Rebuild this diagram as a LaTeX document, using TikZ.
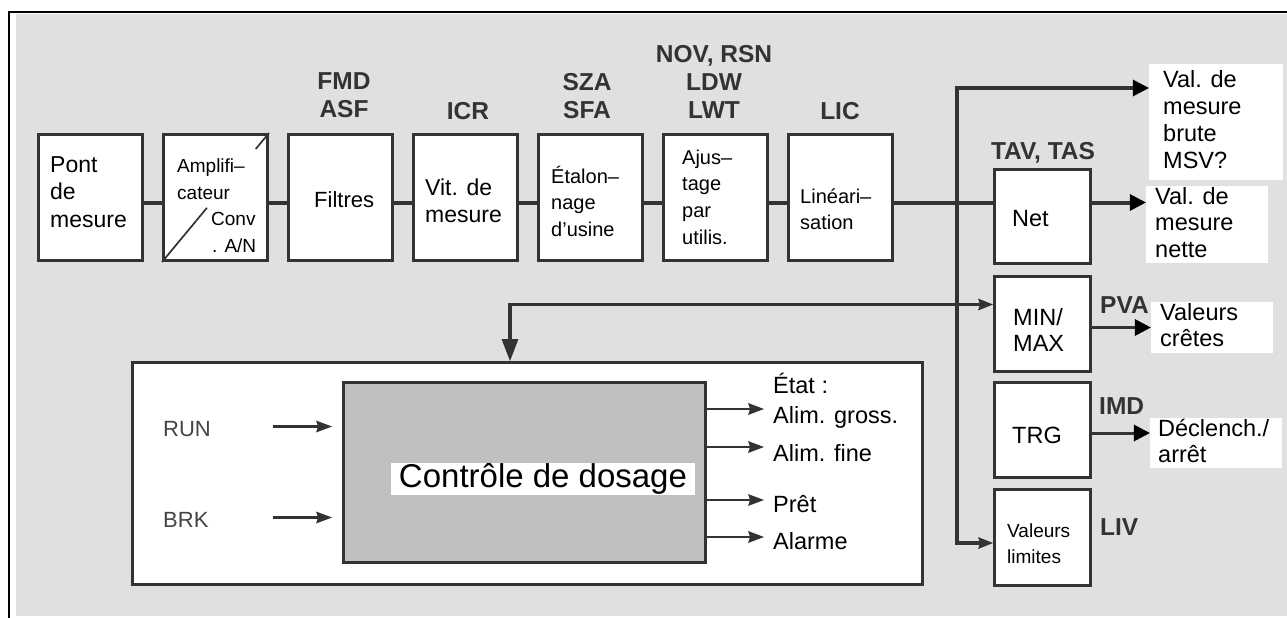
\documentclass[tikz,border=0pt]{standalone}
\usepackage{fontspec}
\setmainfont{Liberation Sans}
\usetikzlibrary{arrows.meta,calc}
\definecolor{bggray}{HTML}{E0E0E0}
\definecolor{ingray}{HTML}{C0C0C0}
\definecolor{linec}{HTML}{333333}
\definecolor{runc}{HTML}{444444}
\newcommand{\Lft}[1]{\vtop{\halign{##\hfil\cr#1\crcr}}}
\newcommand{\Ctr}[1]{\vtop{\halign{\hfil##\hfil\cr#1\crcr}}}
\newcommand{\ftBox}{\fontsize{23}{27.5}\selectfont}
\newcommand{\ftSmall}{\fontsize{20}{26.8}\selectfont}
\newcommand{\ftAmp}{\fontsize{19}{27}\selectfont}
\newcommand{\ftRight}{\fontsize{23.5}{26.7}\selectfont}
\newcommand{\ftLim}{\fontsize{19}{26}\selectfont}
\newcommand{\ftLab}{\fontsize{24.5}{28}\selectfont\bfseries}
\newcommand{\ftCtl}{\fontsize{33}{38}\selectfont}
\newcommand{\ftOut}{\fontsize{23.5}{27}\selectfont}
\newcommand{\ftRun}{\fontsize{22}{26}\selectfont}
\begin{document}
\begin{tikzpicture}[x=1pt,y=-1pt,
  box/.style={draw=linec, line width=3pt, fill=white, inner sep=0pt, minimum width=104pt, minimum height=126pt},
  rbox/.style={draw=linec, line width=3pt, fill=white, inner sep=0pt, minimum width=96pt},
  wbox/.style={fill=white, inner sep=0pt},
  txt/.style={inner sep=0pt, anchor=base west, text=black},
  lbl/.style={inner sep=0pt, anchor=base, text=linec, font=\ftLab},
  sig/.style={draw=linec, line width=4pt},
  thinl/.style={draw=linec, line width=3pt},
  bigtip/.style={-{Triangle[length=16pt,width=17pt,color=black,line width=0pt]}},
  midtip/.style={-{Stealth[length=15pt,width=12pt,inset=2pt,line width=0pt]}},
  smalltip/.style={-{Stealth[length=16pt,width=12pt,inset=2pt,line width=0pt]}}]
\fill[white] (0,0) rectangle (1287,618);
\useasboundingbox (0,0) rectangle (1287,618);
\fill[bggray] (16,14) rectangle (1287,616);
\draw[black, line width=2pt] (8,12.5) -- (1287,12.5);
\draw[black, line width=2pt] (8.5,11.5) -- (8.5,618);

% top row boxes
\node[box] (pont) at (90.5,197.5) {};
\node[box] (amp) at (215.5,197.5) {};
\node[box] (filt) at (340.5,197.5) {};
\node[box] (vit) at (465.5,197.5) {};
\node[box] (etal) at (590,197.5) {};
\node[box] (ajus) at (715,197.5) {};
\node[box] (lin) at (840,197.5) {};

\draw[linec, line width=1.7pt] (amp.south west) -- ($(amp.south west)!0.42!(amp.north east)$);
\draw[linec, line width=1.7pt] ($(amp.south west)!0.876!(amp.north east)$) -- (amp.north east);

\node[txt, font=\ftBox] (tpont) at (50,172) {\Lft{Pont\cr de\cr mesure}};
\node[txt, font=\ftAmp] (tamp) at (177,172) {\Lft{Amplifi–\cr cateur}};
\node[txt, font=\ftAmp] (tconv) at (211,225) {Conv};
\node[txt, font=\ftAmp] (tan) at (212,252) {. A/N};
\node[txt, font=\fontsize{22}{26}\selectfont] (tfilt) at (314,207) {Filtres};
\node[txt, font=\ftBox] (tvit) at (425,195) {\Lft{Vit. de\cr mesure}};
\node[txt, font=\ftSmall] (tetal) at (551,183) {\Lft{Étalon–\cr nage\cr d’usine}};
\node[txt, font=\ftSmall] (tajus) at (682,164) {\Lft{Ajus–\cr tage\cr par\cr utilis.}};
\node[txt, font=\ftSmall] (tlin) at (800,203) {\Lft{Linéari–\cr sation}};

% top labels
\node[lbl] (lfmd) at (344,89) {\Ctr{FMD\cr ASF}};
\node[lbl] (licr) at (468,119) {ICR};
\node[lbl] (lsza) at (587,90) {\Ctr{SZA\cr SFA}};
\node[lbl] (lnov) at (714,63) {\Ctr{NOV, RSN\cr LDW\cr LWT}};
\node[lbl] (llic) at (840,119) {LIC};
\node[lbl] (ltav) at (1043,159) {TAV, TAS};
\node[lbl, anchor=base west] (lpva) at (1100,313) {PVA};
\node[lbl, anchor=base west] (limd) at (1099,414) {IMD};
\node[lbl, anchor=base west] (lliv) at (1100,535) {LIV};

% right column boxes
\node[rbox, minimum height=94pt] (net) at (1042.5,216.5) {};
\node[rbox, minimum height=95pt] (minmax) at (1042.5,324) {};
\node[rbox, minimum height=95pt] (trg) at (1042.5,430) {};
\node[rbox, minimum height=96pt] (vlim) at (1042.5,537.5) {};
\node[txt, font=\ftRight] (tnet) at (1012,226) {Net};
\node[txt, font=\ftRight] (tminmax) at (1013,325) {\Lft{MIN/\cr MAX}};
\node[txt, font=\ftRight] (ttrg) at (1012,443) {TRG};
\node[txt, font=\ftLim] (tvlim) at (1007,537) {\Lft{Valeurs\cr limites}};

% output label boxes
\node[wbox, minimum width=134pt, minimum height=116pt] (brute) at (1216,122) {};
\node[wbox, minimum width=122pt, minimum height=77pt] (nette) at (1207,224.5) {};
\node[wbox, minimum width=122pt, minimum height=51pt] (cretes) at (1212,327.5) {};
\node[wbox, minimum width=132pt, minimum height=50pt] (decl) at (1216,443) {};
\node[txt, font=\ftRight] (tbrute) at (1163,88) {\Lft{Val. de\cr mesure\cr brute\cr MSV?}};
\node[txt, font=\ftRight] (tnette) at (1155,204) {\Lft{Val. de\cr mesure\cr nette}};
\node[txt, font=\ftRight] (tcretes) at (1160,320) {\Lft{Valeurs\cr crêtes}};
\node[txt, font=\ftRight] (tdecl) at (1158,436) {\Lft{Déclench./\cr arrêt}};

% control block
\node[draw=linec, line width=3pt, fill=white, inner sep=0pt, minimum width=790pt, minimum height=222pt] (ctrl) at (527.5,473.5) {};
\node[draw=linec, line width=3pt, fill=ingray, inner sep=0pt, minimum width=362pt, minimum height=180pt] (dos) at (524.5,472.5) {};
\node[fill=white, inner xsep=8pt, inner ysep=1pt, font=\ftCtl] (tdos) at (543,479) {Contrôle de dosage};
\node[txt, font=\ftRun, text=runc] (trun) at (163,436) {RUN};
\node[txt, font=\ftRun, text=runc] (tbrk) at (163,527) {BRK};
\coordinate (runs) at (273,426.5);
\coordinate (brks) at (273,517.5);
\draw[thinl, line width=2.7pt, smalltip, shorten >=10pt] (runs) -- (runs -| dos.west);
\draw[thinl, line width=2.7pt, smalltip, shorten >=10pt] (brks) -- (brks -| dos.west);
\foreach \yy/\nm in {409/o1,447/o2,500/o3,537/o4}{
  \coordinate (\nm) at (764,\yy);
  \draw[thinl, line width=2.7pt, smalltip] (dos.east |- \nm) -- (\nm);
}
\node[txt, font=\ftOut] (tetat) at (773,393) {État :};
\node[txt, font=\ftOut] (tgross) at (773,423) {Alim. gross.};
\node[txt, font=\ftOut] (tfine) at (773,461) {Alim. fine};
\node[txt, font=\ftOut] (tpret) at (773,512) {Prêt};
\node[txt, font=\ftOut] (talarm) at (773,549) {Alarme};

% main signal chain
\draw[sig] ([yshift=-5pt]pont.east) -- ([yshift=-5pt]amp.west);
\draw[sig] ([yshift=-5pt]amp.east) -- ([yshift=-5pt]filt.west);
\draw[sig] ([yshift=-5pt]filt.east) -- ([yshift=-5pt]vit.west);
\draw[sig] ([yshift=-5pt]vit.east) -- ([yshift=-5pt]etal.west);
\draw[sig] ([yshift=-5pt]etal.east) -- ([yshift=-5pt]ajus.west);
\draw[sig] ([yshift=-5pt]ajus.east) -- ([yshift=-5pt]lin.west);
\coordinate (ymain) at ([yshift=-5pt]lin.east);
\draw[sig] (ymain) -- (ymain -| net.west);
\coordinate (bt) at (957,88);
\coordinate (bb) at (957,543);
\draw[sig, bigtip] (bb) -- (bt) -- (bt -| brute.west);
\draw[sig, line width=3.5pt, midtip] (bt) -- (bb) -- (bb -| vlim.west);
\draw[sig, bigtip] (net.east |- ymain) -- (nette.west |- ymain);
\draw[thinl, bigtip] (minmax.east |- cretes.west) -- (cretes.west);
\draw[thinl, bigtip] ([yshift=-3pt]trg.east) -- ([yshift=-3pt]trg.east -| decl.west);

% feedback
\coordinate (fb) at (510,304.5);
\draw[thinl, line width=3.5pt, {Triangle[length=22pt,width=17pt,line width=0pt]}-{Stealth[length=15pt,width=12pt,inset=2pt,line width=0pt]}] (fb |- ctrl.north) -- (fb) -- (fb -| minmax.west);
\end{tikzpicture}
\end{document}
